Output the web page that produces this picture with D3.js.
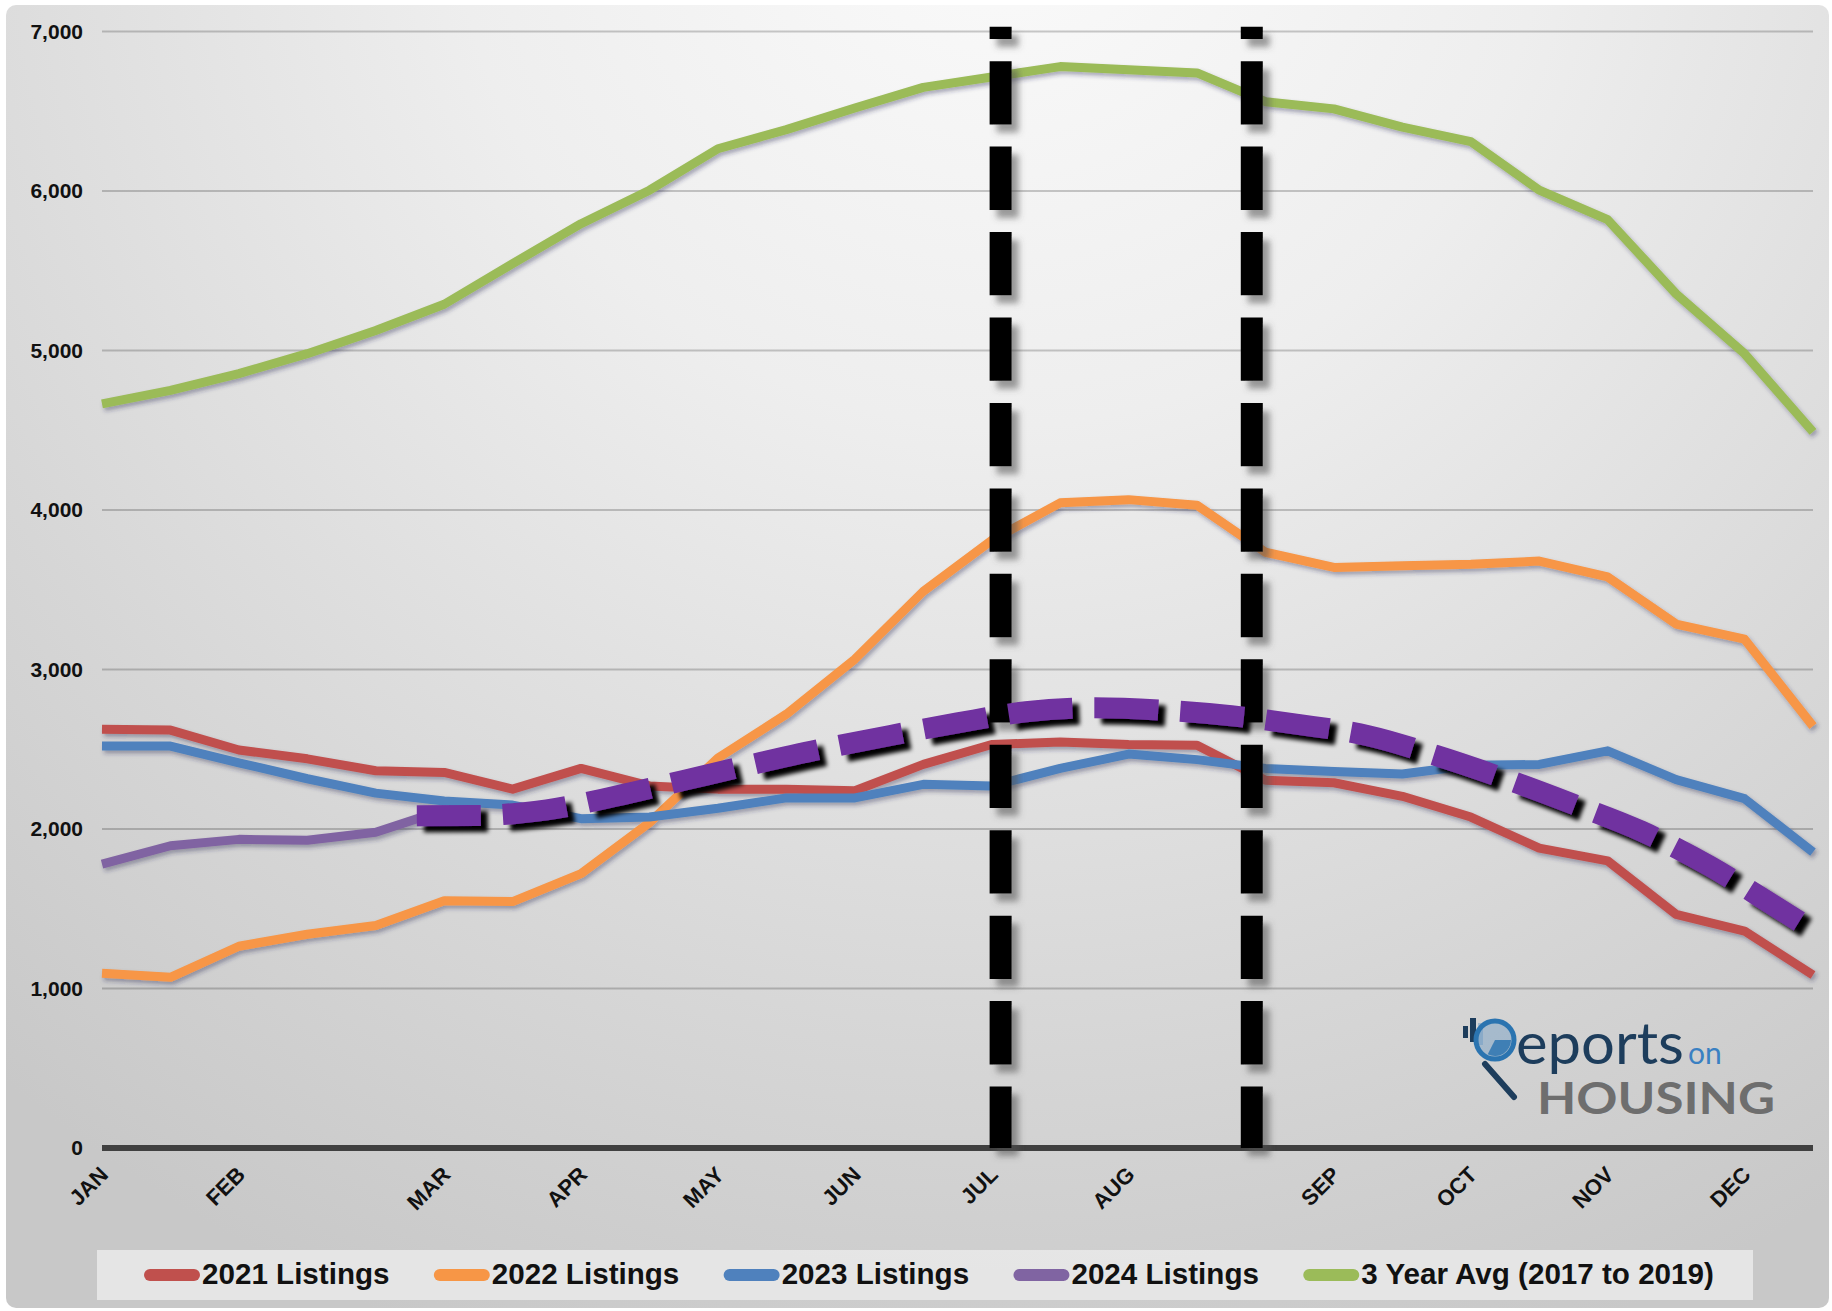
<!DOCTYPE html>
<html>
<head>
<meta charset="utf-8">
<title>Active Listings</title>
<script src="https://cdn.jsdelivr.net/npm/d3@7"></script>
<style>
  html, body { margin: 0; padding: 0; background: #ffffff; }
  svg { display: block; }
</style>
</head>
<body>
<svg id="chart" width="1832" height="1311"></svg>
<script>
// ---- Data: bi-weekly inventory readings through the year ----
const weeks = [0, 1, 2, 3, 4, 5, 6, 7, 8, 9, 10, 11, 12, 13, 14, 15, 16, 17, 18, 19, 20, 21, 22, 23, 24, 25];

const monthTickWeeks  = [0, 2, 5, 7, 9, 11, 13, 15, 18, 20, 22, 24];
const monthTickLabels = ["JAN", "FEB", "MAR", "APR", "MAY", "JUN", "JUL", "AUG", "SEP", "OCT", "NOV", "DEC"];
const yTickValues     = [0, 1000, 2000, 3000, 4000, 5000, 6000, 7000];

const listings2021 = [2625, 2620, 2495, 2440, 2365, 2355, 2250, 2380, 2270, 2250, 2250, 2240, 2405,
                      2530, 2545, 2530, 2525, 2305, 2290, 2205, 2075, 1880, 1800, 1465, 1360, 1085];
const listings2022 = [1095, 1070, 1265, 1340, 1395, 1550, 1545, 1720, 2040, 2445, 2720, 3065, 3490,
                      3810, 4045, 4065, 4030, 3735, 3640, 3650, 3660, 3680, 3580, 3285, 3190, 2645];
const listings2023 = [2520, 2520, 2415, 2315, 2225, 2175, 2150, 2065, 2075, 2130, 2195, 2195, 2280,
                      2270, 2380, 2470, 2435, 2380, 2360, 2345, 2400, 2405, 2490, 2310, 2190, 1855];
const listings2024 = [1780, 1895, 1935, 1930, 1980, 2120];
const avg2017to2019 = [4665, 4750, 4855, 4980, 5125, 5290, 5545, 5795, 6005, 6265, 6385, 6520, 6650,
                       6715, 6780, 6760, 6740, 6560, 6515, 6400, 6310, 6005, 5820, 5355, 4980, 4490];

// Projected path for the rest of the current year
const projectionWeeks  = [4.6, 5.5, 6.5, 7.5, 8.5, 9.5, 10.5, 11.5, 12.5, 13.5, 14.5, 15.5, 16.5,
                          17.5, 18.5, 19.5, 20.5, 21.5, 22.5, 23.5, 24.3, 24.8];
const projectionValues = [2083, 2085, 2120, 2205, 2305, 2405, 2500, 2585, 2665, 2735, 2760, 2745, 2710,
                          2655, 2585, 2460, 2315, 2155, 1985, 1765, 1555, 1420];

// Summer window markers (in week units)
const markerWeeks = [13.13, 16.8];
const markerTopValue = 7030;

const seriesNames  = ["2021 Listings", "2022 Listings", "2023 Listings", "2024 Listings", "3 Year Avg (2017 to 2019)"];
const seriesValues = [listings2021, listings2022, listings2023, listings2024, avg2017to2019];
const seriesColors = ["#c0504d", "#f79646", "#4f81bd", "#8064a2", "#9bbb59"];

// ---- Layout ----
const W = 1832, H = 1311;
const plot = { left: 102, right: 1813, top: 31.5, bottom: 1148 };
const FONT = "'Liberation Sans', Arial, Helvetica, sans-serif";

const svg = d3.select("#chart");
const defs = svg.append("defs");

// Background panel gradient
const grad = defs.append("radialGradient")
  .attr("id", "panelGrad")
  .attr("gradientUnits", "userSpaceOnUse")
  .attr("cx", 1000).attr("cy", -120).attr("r", 1560);
grad.append("stop").attr("offset", "0").attr("stop-color", "#fbfbfb");
grad.append("stop").attr("offset", "0.35").attr("stop-color", "#eeeeee");
grad.append("stop").attr("offset", "0.75").attr("stop-color", "#d6d6d6");
grad.append("stop").attr("offset", "1").attr("stop-color", "#c8c8c8");

function shadowFilter(id, dx, dy, blur, color, opacity) {
  const f = defs.append("filter").attr("id", id)
    .attr("filterUnits", "userSpaceOnUse")
    .attr("x", 0).attr("y", 0).attr("width", W).attr("height", H);
  f.append("feDropShadow")
    .attr("dx", dx).attr("dy", dy).attr("stdDeviation", blur)
    .attr("flood-color", color).attr("flood-opacity", opacity);
}
shadowFilter("lineShadow", 2, 3, 2, "#2c2c50", 0.38);
shadowFilter("markerShadow", 7, 8, 3, "#505050", 0.55);
shadowFilter("projShadow", 7, 6, 2.2, "#000000", 1);

svg.append("rect")
  .attr("x", 6).attr("y", 5)
  .attr("width", W - 9).attr("height", H - 8)
  .attr("rx", 10)
  .attr("fill", "url(#panelGrad)");

// ---- Scales ----
const x = d3.scaleLinear().domain([d3.min(weeks), d3.max(weeks)]).range([plot.left, plot.right]);
const y = d3.scaleLinear().domain([0, 7000]).range([plot.bottom, plot.top]);

// ---- Gridlines ----
svg.append("g")
  .selectAll("line")
  .data(yTickValues.filter(v => v > 0))
  .join("line")
  .attr("x1", plot.left).attr("x2", plot.right)
  .attr("y1", d => y(d)).attr("y2", d => y(d))
  .attr("stroke", "#000").attr("stroke-opacity", 0.2)
  .attr("stroke-width", 2);

// ---- Y axis labels ----
const yAxis = svg.append("g")
  .attr("transform", `translate(${plot.left},0)`)
  .call(d3.axisLeft(y).tickValues(yTickValues).tickFormat(d3.format(",")).tickSize(0).tickPadding(19));
yAxis.select(".domain").remove();
yAxis.selectAll("text")
  .attr("font-family", FONT)
  .attr("font-weight", "bold")
  .attr("font-size", 21)
  .attr("fill", "#111");

// ---- Zero baseline ----
svg.append("line")
  .attr("x1", plot.left).attr("x2", plot.right)
  .attr("y1", y(0)).attr("y2", y(0))
  .attr("stroke", "#404040").attr("stroke-width", 6);

// ---- Series lines ----
const line = d3.line()
  .x((d, i) => x(weeks[i]))
  .y(d => y(d));

svg.append("g")
  .attr("filter", "url(#lineShadow)")
  .selectAll("path")
  .data(seriesValues)
  .join("path")
  .attr("d", d => line(d))
  .attr("fill", "none")
  .attr("stroke", (d, i) => seriesColors[i])
  .attr("stroke-width", 9)
  .attr("stroke-linejoin", "round")
  .attr("stroke-linecap", "butt");

// ---- Vertical dashed window markers ----
svg.append("g")
  .attr("filter", "url(#markerShadow)")
  .selectAll("line")
  .data(markerWeeks)
  .join("line")
  .attr("x1", d => x(d)).attr("x2", d => x(d))
  .attr("y1", y(markerTopValue)).attr("y2", y(0))
  .attr("stroke", "#000")
  .attr("stroke-width", 22)
  .attr("stroke-dasharray", "63.3 22.15")
  .attr("stroke-dashoffset", 51);

// ---- Projection (thick dashed curve) ----
const projLine = d3.line()
  .x((d, i) => x(projectionWeeks[i]))
  .y(d => y(d))
  .curve(d3.curveMonotoneX);

svg.append("path")
  .attr("d", projLine(projectionValues))
  .attr("fill", "none")
  .attr("stroke", "#7030a0")
  .attr("stroke-width", 21)
  .attr("stroke-dasharray", "64 22")
  .attr("filter", "url(#projShadow)");

// ---- X axis month labels ----
const xAxis = svg.append("g")
  .attr("transform", `translate(0,${y(0)})`)
  .call(d3.axisBottom(x).tickValues(monthTickWeeks).tickFormat((d, i) => monthTickLabels[i]).tickSize(0));
xAxis.select(".domain").remove();
xAxis.selectAll("text")
  .attr("y", 0).attr("dy", 0)
  .attr("transform", "translate(7,28) rotate(-45)")
  .attr("text-anchor", "end")
  .attr("font-family", FONT)
  .attr("font-weight", "bold")
  .attr("font-size", 22)
  .attr("fill", "#111");

// ---- Legend ----
svg.append("rect")
  .attr("x", 97).attr("y", 1250)
  .attr("width", 1656).attr("height", 50)
  .attr("fill", "#e8e8e8").attr("fill-opacity", 0.9);

const legend = svg.append("g");
let lx = 144;
seriesNames.forEach((name, i) => {
  legend.append("line")
    .attr("x1", lx + 6).attr("x2", lx + 50)
    .attr("y1", 1275).attr("y2", 1275)
    .attr("stroke", seriesColors[i])
    .attr("stroke-width", 12)
    .attr("stroke-linecap", "round");
  const t = legend.append("text")
    .attr("x", lx + 58).attr("y", 1284)
    .attr("font-family", FONT)
    .attr("font-weight", "bold")
    .attr("font-size", 29.6)
    .attr("fill", "#111")
    .text(name);
  lx += 58 + t.node().getComputedTextLength() + 44.3;
});

// ---- Logo ----
const logo = svg.append("g");
const navy = "#1d3d5c";
logo.append("rect").attr("x", 1463).attr("y", 1026).attr("width", 5).attr("height", 12).attr("fill", navy);
logo.append("rect").attr("x", 1470).attr("y", 1018).attr("width", 6).attr("height", 24).attr("fill", navy);
logo.append("rect").attr("x", 1478).attr("y", 1023).attr("width", 5).attr("height", 22).attr("fill", "#9fb6cc");
logo.append("circle").attr("cx", 1495).attr("cy", 1040).attr("r", 19)
  .attr("fill", "#6f9cc4").attr("fill-opacity", 0.45)
  .attr("stroke", "#2b74b0").attr("stroke-width", 5);
logo.append("path")
  .attr("d", d3.arc()({ innerRadius: 0, outerRadius: 16, startAngle: Math.PI * 0.5, endAngle: Math.PI * 1.15 }))
  .attr("transform", "translate(1495,1040)")
  .attr("fill", "#3f7fb5");
logo.append("line").attr("x1", 1485).attr("y1", 1064).attr("x2", 1514).attr("y2", 1097)
  .attr("stroke", navy).attr("stroke-width", 6).attr("stroke-linecap", "round");
logo.append("text")
  .attr("x", 1516).attr("y", 1064)
  .attr("font-family", "Lato, 'Open Sans', sans-serif")
  .attr("font-size", 58)
  .attr("fill", navy)
  .attr("textLength", 168).attr("lengthAdjust", "spacingAndGlyphs")
  .text("eports");
logo.append("text")
  .attr("x", 1688).attr("y", 1064)
  .attr("font-family", "Lato, 'Open Sans', sans-serif")
  .attr("font-size", 30)
  .attr("fill", "#3a80c2")
  .text("on");
logo.append("text")
  .attr("x", 1537).attr("y", 1114)
  .attr("font-family", "Lato, 'Open Sans', sans-serif")
  .attr("font-weight", "bold")
  .attr("font-size", 44)
  .attr("fill", "#6e6e6e")
  .attr("textLength", 238).attr("lengthAdjust", "spacingAndGlyphs")
  .text("HOUSING");
</script>
</body>
</html>
